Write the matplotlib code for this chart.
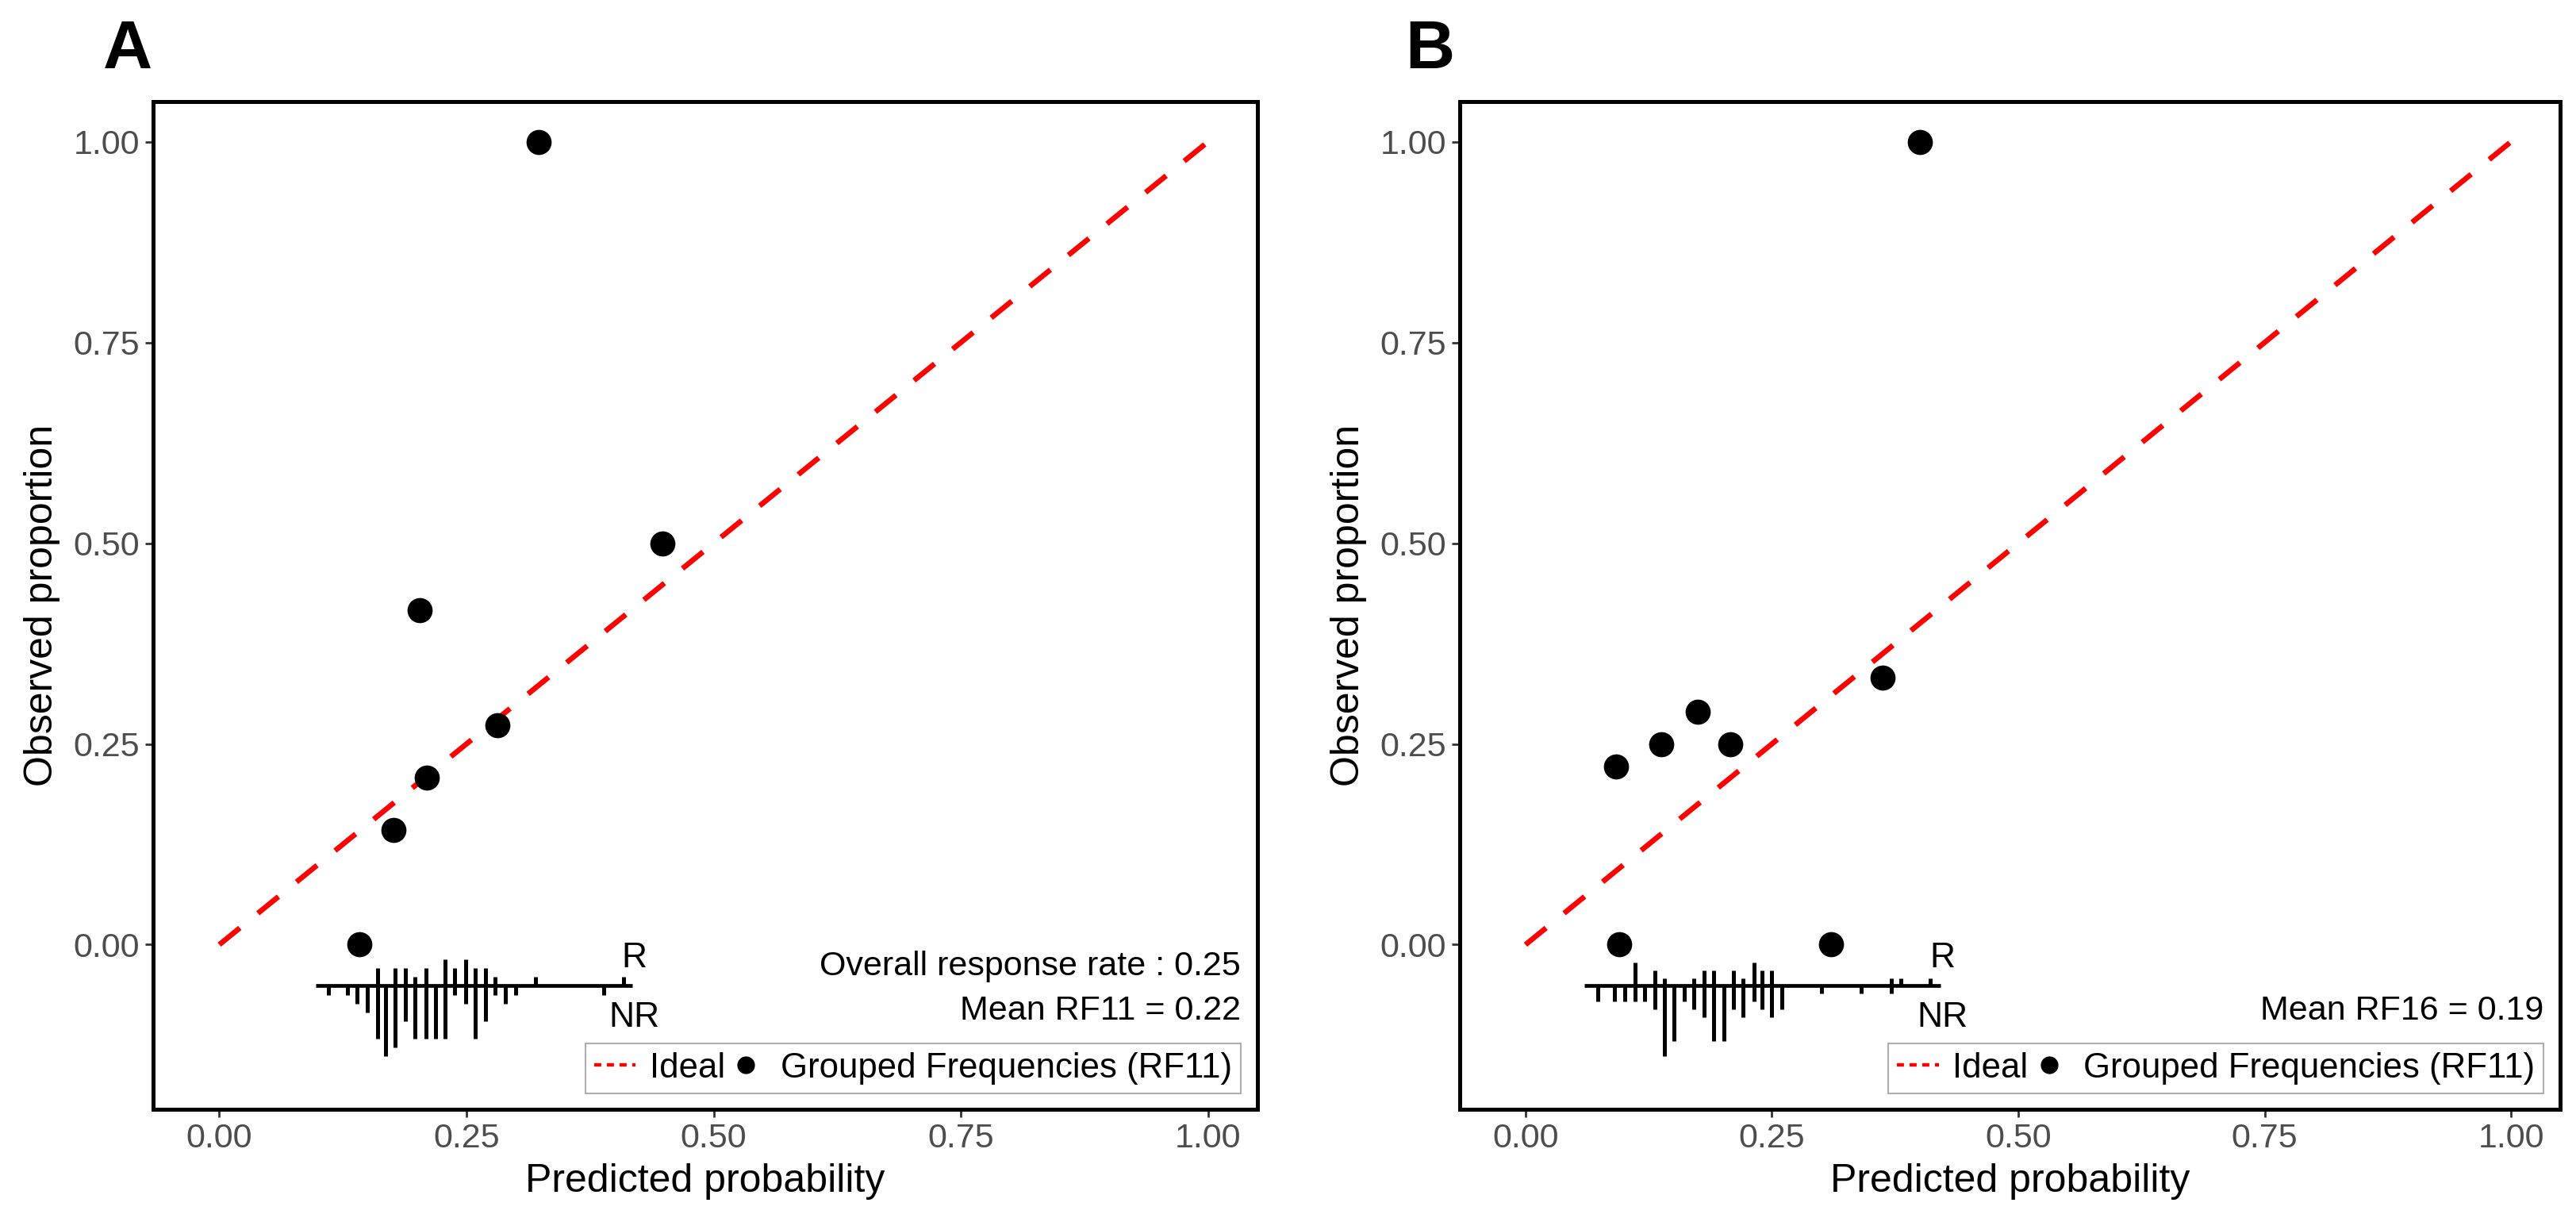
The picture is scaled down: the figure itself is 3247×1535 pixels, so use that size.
import numpy as np
import matplotlib.pyplot as plt
from matplotlib.lines import Line2D

plt.rcParams['font.family'] = ['Liberation Sans', 'DejaVu Sans']

# ---- panel A : RF11 ----
a_pred = [0.142, 0.176, 0.210, 0.203, 0.281, 0.323, 0.448]
a_obs = [0.0, 0.143, 0.208, 0.417, 0.273, 1.0, 0.5]
a_bins = [0.110, 0.130, 0.139, 0.150, 0.160, 0.168, 0.178, 0.188, 0.198, 0.209,
          0.219, 0.228, 0.238, 0.249, 0.259, 0.269, 0.279, 0.289, 0.300, 0.320,
          0.389, 0.409]
a_resp = [0, 0, 0, 0, 2, 0, 2, 2, 1, 2, 0, 3, 2, 3, 2, 2, 1, 0, 0, 1, 0, 1]
a_nonresp = [1, 1, 2, 3, 6, 8, 7, 4, 6, 6, 6, 6, 1, 2, 6, 4, 1, 2, 1, 0, 1, 0]
a_range = [0.0975, 0.418]
a_notes = ["Overall response rate : 0.25", "Mean RF11 = 0.22"]

# ---- panel B : RF16 ----
b_pred = [0.095, 0.092, 0.138, 0.175, 0.208, 0.310, 0.362, 0.400]
b_obs = [0.0, 0.222, 0.25, 0.29, 0.25, 0.0, 0.333, 1.0]
b_bins = [0.073, 0.090, 0.101, 0.111, 0.121, 0.131, 0.141, 0.151, 0.161, 0.171,
          0.181, 0.191, 0.201, 0.211, 0.221, 0.232, 0.240, 0.250, 0.260, 0.300,
          0.341, 0.371, 0.381, 0.411]
b_resp = [0, 0, 0, 3, 0, 2, 1, 0, 0, 1, 2, 2, 0, 2, 1, 3, 2, 2, 0, 0, 0, 1, 1, 1]
b_nonresp = [2, 2, 2, 2, 2, 3, 9, 7, 2, 3, 4, 7, 7, 3, 4, 2, 3, 4, 3, 1, 1, 1, 0, 0]
b_range = [0.060, 0.421]
b_notes = ["", "Mean RF16 = 0.19"]

legend_label = "Grouped Frequencies (RF11)"

spike_base = -0.0513
spike_max = 0.088


def draw_panel(ax, pred, obs, bins, resp, nonresp, xr, notes):
    ax.plot([0, 1], [0, 1], color='red', lw=4.8, ls=(0, (5, 4.4)), zorder=2)
    ax.scatter(pred, obs, s=520, color='black', zorder=3, linewidths=0)

    # spike histogram: responders up, non-responders down
    bins = np.array(bins)
    unit = spike_max / max(max(resp), max(nonresp))
    r = np.array(resp) * unit
    nr = np.array(nonresp) * unit
    ax.hlines(spike_base, xr[0], xr[1], color='black', lw=3.4)
    ax.vlines(bins[r > 0], spike_base, spike_base + r[r > 0], color='black', lw=3.6)
    ax.vlines(bins[nr > 0], spike_base - nr[nr > 0], spike_base, color='black', lw=3.6)
    ax.text(xr[1] + 0.002, -0.017, "R", fontsize=32, ha='center', va='center')
    ax.text(xr[1] + 0.002, -0.091, "NR", fontsize=32, ha='center', va='center')

    trans = ax.get_yaxis_transform()
    ax.text(0.985, -0.027, notes[0], fontsize=31, ha='right', va='center',
            transform=trans)
    ax.text(0.985, -0.083, notes[1], fontsize=31, ha='right', va='center',
            transform=trans)

    h_line = Line2D([], [], color='red', lw=3.2, ls=(0, (2, 1.6)))
    h_dot = Line2D([], [], color='black', marker='o', ls='none', markersize=15)
    leg = ax.legend([h_line, h_dot], ["Ideal", legend_label], ncol=2,
                    loc='lower right', bbox_to_anchor=(0.985, 0.016),
                    borderaxespad=0, fontsize=31.5, frameon=True, fancybox=False,
                    handlelength=1.2, handletextpad=0.4, columnspacing=0.0,
                    borderpad=0.25)
    leg.get_frame().set_edgecolor('#9a9a9a')
    leg.get_frame().set_linewidth(1.5)

    ax.set_xlim(-0.067, 1.05)
    ax.set_ylim(-0.205, 1.05)
    ticks = [0, 0.25, 0.5, 0.75, 1.0]
    ax.set_xticks(ticks)
    ax.set_yticks(ticks)
    ax.set_xticklabels(["%.2f" % t for t in ticks])
    ax.set_yticklabels(["%.2f" % t for t in ticks])
    ax.tick_params(labelsize=31, labelcolor='#4d4d4d', length=7, width=2,
                   color='#333333', pad=5)
    for s in ax.spines.values():
        s.set_linewidth(3.6)
        s.set_color('black')
    ax.set_xlabel("Predicted probability", fontsize=36, labelpad=8)
    ax.set_ylabel("Observed proportion", fontsize=36, labelpad=12)


fig = plt.figure(figsize=(32.48, 15.35), dpi=100)
ax_a = fig.add_axes([0.0594, 0.0893, 0.4286, 0.8273])
ax_b = fig.add_axes([0.5664, 0.0893, 0.4272, 0.8273])

draw_panel(ax_a, a_pred, a_obs, a_bins, a_resp, a_nonresp, a_range, a_notes)
draw_panel(ax_b, b_pred, b_obs, b_bins, b_resp, b_nonresp, b_range, b_notes)

fig.text(0.0497, 0.958, "A", fontsize=62, fontweight='bold', ha='center', va='center')
fig.text(0.555, 0.958, "B", fontsize=62, fontweight='bold', ha='center', va='center')

fig.savefig("out.png", dpi=100, facecolor='white')
